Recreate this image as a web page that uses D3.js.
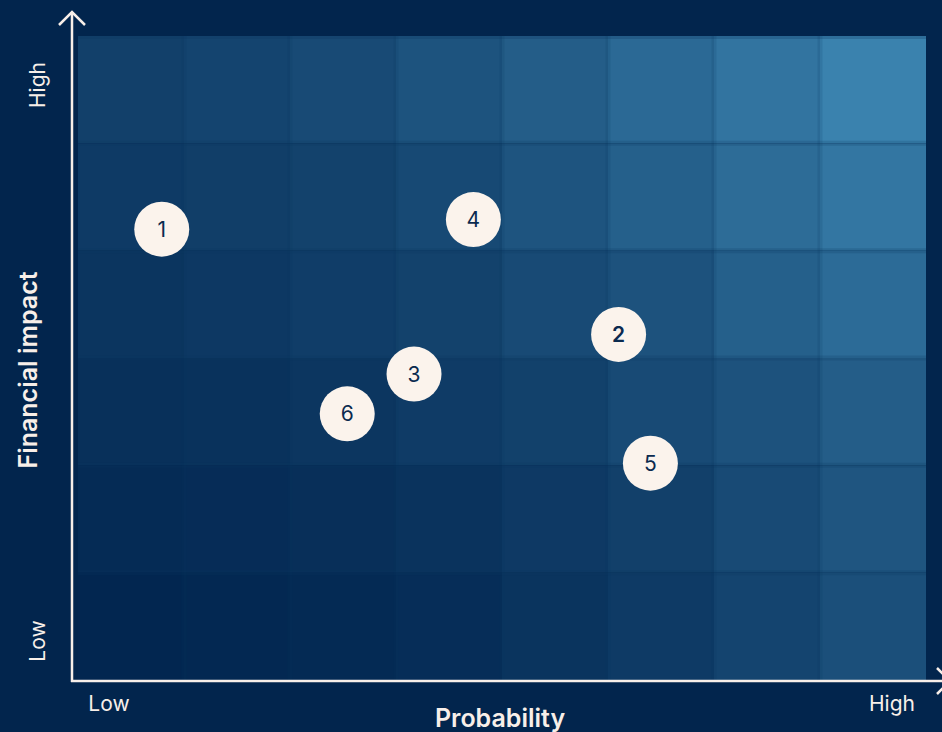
<!DOCTYPE html>
<html>
<head>
<meta charset="utf-8">
<script src="https://cdn.jsdelivr.net/npm/d3@7"></script>
<style>
  body { margin: 0; background: #02254d; }
  svg { display: block; font-family: Inter, "Open Sans", sans-serif; }
</style>
</head>
<body>
<div id="chart"></div>
<script>
// grid categories (columns = probability, rows = financial impact)
let probCols = [1, 2, 3, 4, 5, 6, 7, 8];
let impactRows = [1, 2, 3, 4, 5, 6];

// heat intensity per cell, row 6 (high) first
let heatValues = [
  [0.28, 0.33, 0.39, 0.49, 0.60, 0.73, 0.85, 1.00],
  [0.22, 0.26, 0.30, 0.38, 0.50, 0.63, 0.76, 0.87],
  [0.16, 0.20, 0.25, 0.30, 0.39, 0.48, 0.63, 0.75],
  [0.11, 0.13, 0.17, 0.23, 0.29, 0.39, 0.48, 0.60],
  [0.05, 0.07, 0.10, 0.14, 0.21, 0.28, 0.39, 0.51],
  [0.00, 0.02, 0.04, 0.08, 0.15, 0.22, 0.33, 0.45]
];

// risks
let riskIds = ["1", "2", "3", "4", "5", "6"];
let riskProb = [0.79, 5.10, 3.17, 3.73, 5.40, 2.54];
let riskImpact = [4.20, 3.22, 2.85, 4.29, 2.02, 2.48];

let svgWidth = 942;
let svgHeight = 732;

let plot = { left: 78, right: 926, top: 36, bottom: 680 };

let svg = d3.select("#chart")
  .append("svg")
  .attr("width", svgWidth)
  .attr("height", svgHeight);

svg.append("rect")
  .attr("width", svgWidth)
  .attr("height", svgHeight)
  .attr("fill", "#02254d");

// scales
let xBand = d3.scaleBand().domain(probCols).range([plot.left, plot.right]);
let yBand = d3.scaleBand().domain(impactRows.slice().reverse()).range([plot.top, plot.bottom]);
let xLinear = d3.scaleLinear().domain([0, 8]).range([plot.left, plot.right]);
let yLinear = d3.scaleLinear().domain([0, 6]).range([plot.bottom, plot.top]);
let colour = d3.scaleLinear().domain([0, 1]).range(["#022650", "#3a82ae"]);

// build cells
let cells = [];
heatValues.forEach(function(row, i) {
  row.forEach(function(v, j) {
    cells.push({ col: probCols[j], row: impactRows[impactRows.length - 1 - i], v: v });
  });
});

let cellGroup = svg.append("g");
cellGroup.selectAll("rect")
  .data(cells)
  .enter()
  .append("rect")
  .attr("x", d => xBand(d.col))
  .attr("y", d => yBand(d.row))
  .attr("width", xBand.bandwidth())
  .attr("height", yBand.bandwidth())
  .attr("fill", d => colour(d.v));

// soft seams between cells
cellGroup.selectAll("line.v")
  .data(probCols.slice(1))
  .enter()
  .append("line")
  .attr("x1", d => xBand(d))
  .attr("x2", d => xBand(d))
  .attr("y1", plot.top)
  .attr("y2", plot.bottom)
  .attr("stroke", "#0a3560")
  .attr("stroke-opacity", 0.15)
  .attr("stroke-width", 5);

cellGroup.selectAll("line.h")
  .data(impactRows.slice(0, -1))
  .enter()
  .append("line")
  .attr("x1", plot.left)
  .attr("x2", plot.right)
  .attr("y1", d => yBand(d))
  .attr("y2", d => yBand(d))
  .attr("stroke", "#0a3560")
  .attr("stroke-opacity", 0.2)
  .attr("stroke-width", 5);

cellGroup.append("rect")
  .attr("x", plot.left)
  .attr("y", plot.top)
  .attr("width", plot.right - plot.left)
  .attr("height", 3)
  .attr("fill", "#0a3560")
  .attr("opacity", 0.25);

// axes with arrows
let axisColour = "#f8efe9";
let ax = 72, ay = 681;
svg.append("line")
  .attr("x1", ax).attr("y1", 12).attr("x2", ax).attr("y2", ay + 1)
  .attr("stroke", axisColour).attr("stroke-width", 2.5);
svg.append("path")
  .attr("d", `M${ax - 13},${25} L${ax},${12} L${ax + 13},${25}`)
  .attr("fill", "none").attr("stroke", axisColour).attr("stroke-width", 2.5);
svg.append("line")
  .attr("x1", ax - 1).attr("y1", ay).attr("x2", 942).attr("y2", ay)
  .attr("stroke", axisColour).attr("stroke-width", 2.5);
svg.append("path")
  .attr("d", `M${937},${668} L${950},${681} L${937},${694}`)
  .attr("fill", "none").attr("stroke", axisColour).attr("stroke-width", 2.5);

// tick labels
let tickSize = 21;
svg.append("text")
  .attr("transform", "translate(45,85) rotate(-90)")
  .attr("text-anchor", "middle")
  .attr("fill", axisColour)
  .attr("font-size", tickSize)
  .text("High");
svg.append("text")
  .attr("transform", "translate(45,641) rotate(-90)")
  .attr("text-anchor", "middle")
  .attr("fill", axisColour)
  .attr("font-size", tickSize)
  .text("Low");
svg.append("text")
  .attr("x", 109).attr("y", 711)
  .attr("text-anchor", "middle")
  .attr("fill", axisColour)
  .attr("font-size", tickSize)
  .text("Low");
svg.append("text")
  .attr("x", 892).attr("y", 711)
  .attr("text-anchor", "middle")
  .attr("fill", axisColour)
  .attr("font-size", tickSize)
  .text("High");

// axis titles
svg.append("text")
  .attr("transform", "translate(37,370) rotate(-90)")
  .attr("text-anchor", "middle")
  .attr("fill", axisColour)
  .attr("font-size", 25)
  .attr("font-weight", 600)
  .text("Financial impact");
svg.append("text")
  .attr("x", 500).attr("y", 727)
  .attr("text-anchor", "middle")
  .attr("fill", axisColour)
  .attr("font-size", 25)
  .attr("font-weight", 600)
  .text("Probability");

// risk markers
let risks = riskIds.map((id, i) => ({ id: id, p: riskProb[i], f: riskImpact[i] }));
let riskGroup = svg.append("g").selectAll("g")
  .data(risks)
  .enter()
  .append("g")
  .attr("transform", d => `translate(${xLinear(d.p)},${yLinear(d.f)})`);

riskGroup.append("circle")
  .attr("r", 27.5)
  .attr("fill", "#fbf3ec");

riskGroup.append("text")
  .attr("text-anchor", "middle")
  .attr("dy", "0.36em")
  .attr("font-size", 21)
  .attr("font-weight", d => d.id === "2" ? 600 : 400)
  .attr("fill", "#0b2a4f")
  .text(d => d.id);
</script>
</body>
</html>
